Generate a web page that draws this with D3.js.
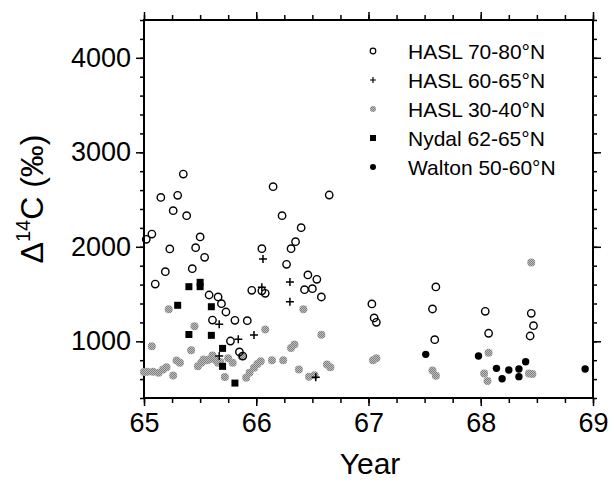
<!DOCTYPE html>
<html>
<head>
<meta charset="utf-8">
<script src="https://cdn.jsdelivr.net/npm/d3@7"></script>
<style>
  body { margin: 0; background: #fff; }
  text { font-family: "Liberation Sans", Arial, sans-serif; fill: #000; }
</style>
</head>
<body>
<script>
// data: [year, delta14C]
var hasl7080 = [
  [65.02,2079],[65.07,2135],[65.10,1606],[65.15,2523],[65.19,1737],[65.23,1977],
  [65.26,2382],[65.30,2545],[65.35,2770],[65.38,2329],[65.43,1769],[65.46,1991],
  [65.50,2104],[65.54,1889],[65.58,1490],[65.61,1225],[65.66,1469],[65.69,1398],
  [65.73,1310],[65.77,1003],[65.81,1222],[65.85,887],[65.88,844],[65.92,1218],
  [65.96,1539],[66.05,1980],[66.05,1534],[66.08,1508],[66.15,2636],[66.23,2329],
  [66.27,1815],[66.31,1980],[66.35,2054],[66.40,2202],[66.43,1546],[66.46,1702],
  [66.50,1557],[66.54,1656],[66.58,1469],[66.65,2548],
  [67.03,1395],[67.05,1247],[67.07,1201],[67.57,1342],[67.59,1017],[67.60,1575],
  [68.04,1317],[68.07,1085],[68.44,1056],[68.45,1296],[68.47,1165]
];
var hasl6065 = [
  [65.67,1180],[65.67,844],[65.84,1021],[65.98,1067],[66.06,1871],[66.05,1571],
  [66.30,1628],[66.30,1419],[66.53,619]
];
var hasl3040 = [
  [65.00,674],[65.03,678],[65.08,677],[65.13,667],[65.17,702],[65.20,726],[65.07,947],
  [65.22,1340],[65.26,639],[65.29,796],[65.32,772],[65.42,905],[65.45,1160],[65.48,737],
  [65.51,772],[65.53,807],[65.56,800],[65.58,807],[65.61,849],[65.64,800],[65.66,772],
  [65.72,621],[65.68,780],[65.75,820],[65.79,772],[65.87,842],[65.91,615],[65.94,667],
  [65.98,721],[66.01,761],[66.04,789],[66.08,1125],[66.14,800],[66.24,800],[66.31,930],
  [66.34,965],[66.38,702],[66.42,1340],[66.47,625],[66.52,640],[66.58,1068],[66.63,754],
  [66.66,726],[67.04,800],[67.07,820],[67.57,690],[67.60,635],[68.03,660],[68.06,580],
  [68.07,878],[68.43,660],[68.46,655],[68.45,1833]
];
var nydal = [
  [65.30,1381],[65.40,1578],[65.50,1624],[65.50,1578],[65.60,1366],[65.40,1072],
  [65.60,1063],[65.70,925],[65.70,735],[65.81,558]
];
var walton = [
  [67.51,862],[67.98,844],[68.14,714],[68.19,604],[68.25,696],[68.34,707],
  [68.34,626],[68.40,784],[68.93,707]
];
var yearTicks = [65, 66, 67, 68, 69];
var valueTicks = [1000, 2000, 3000, 4000];
var legendLabels = ["HASL 70-80°N", "HASL 60-65°N", "HASL 30-40°N", "Nydal 62-65°N", "Walton 50-60°N"];

var W = 610, H = 482;
var pLeft = 144, pRight = 593, pTop = 20, pBottom = 398;

var svg = d3.select("body").append("svg")
  .attr("width", W).attr("height", H);

var x = d3.scaleLinear().domain([65, 69]).range([pLeft, pRight]);
var y = d3.scaleLinear().domain([400, 4400]).range([pBottom, pTop]);

var minorX = d3.range(65, 69.01, 0.25);
var minorY = d3.range(400, 4401, 200);

function styleAxis(g) {
  g.select(".domain").remove();
  g.selectAll("line").attr("stroke", "#000").attr("stroke-width", 1.5);
  g.selectAll("text").attr("font-size", "27px").attr("fill", "#000")
    .attr("font-family", "Liberation Sans, Arial, sans-serif");
}

// bottom
svg.append("g").attr("transform", "translate(0," + pBottom + ")")
  .call(d3.axisBottom(x).tickValues(minorX).tickSize(5).tickFormat(""))
  .call(styleAxis);
svg.append("g").attr("transform", "translate(0," + pBottom + ")")
  .call(d3.axisBottom(x).tickValues(yearTicks).tickSize(8).tickPadding(7).tickFormat(d3.format("d")))
  .call(styleAxis);
// top
svg.append("g").attr("transform", "translate(0," + pTop + ")")
  .call(d3.axisTop(x).tickValues(minorX).tickSize(5).tickFormat(""))
  .call(styleAxis);
svg.append("g").attr("transform", "translate(0," + pTop + ")")
  .call(d3.axisTop(x).tickValues(yearTicks).tickSize(8).tickFormat(""))
  .call(styleAxis);
// left
svg.append("g").attr("transform", "translate(" + pLeft + ",0)")
  .call(d3.axisLeft(y).tickValues(minorY).tickSize(4).tickFormat(""))
  .call(styleAxis);
svg.append("g").attr("transform", "translate(" + pLeft + ",0)")
  .call(d3.axisLeft(y).tickValues(valueTicks).tickSize(8).tickPadding(5).tickFormat(d3.format("d")))
  .call(styleAxis);
// right
svg.append("g").attr("transform", "translate(" + pRight + ",0)")
  .call(d3.axisRight(y).tickValues(minorY).tickSize(4).tickFormat(""))
  .call(styleAxis);
svg.append("g").attr("transform", "translate(" + pRight + ",0)")
  .call(d3.axisRight(y).tickValues(valueTicks).tickSize(8).tickFormat(""))
  .call(styleAxis);

// frame
svg.append("rect")
  .attr("x", pLeft).attr("y", pTop)
  .attr("width", pRight - pLeft).attr("height", pBottom - pTop)
  .attr("fill", "none").attr("stroke", "#000").attr("stroke-width", 2);

// dithered grey
var defs = svg.append("defs");
var pat = defs.append("pattern").attr("id", "dither")
  .attr("width", 2).attr("height", 2).attr("patternUnits", "userSpaceOnUse");
pat.append("rect").attr("width", 2).attr("height", 2).attr("fill", "#bdbdbd");
pat.append("rect").attr("width", 1).attr("height", 1).attr("fill", "#808080");
pat.append("rect").attr("x", 1).attr("y", 1).attr("width", 1).attr("height", 1).attr("fill", "#808080");

var plot = svg.append("g");

// HASL 30-40 grey
plot.selectAll(".g3040").data(hasl3040).enter().append("circle")
  .attr("cx", d => x(d[0])).attr("cy", d => y(d[1]))
  .attr("r", 4).attr("fill", "url(#dither)");

// HASL 70-80 open circles
plot.selectAll(".o7080").data(hasl7080).enter().append("circle")
  .attr("cx", d => x(d[0])).attr("cy", d => y(d[1]))
  .attr("r", 3.7).attr("fill", "none").attr("stroke", "#000").attr("stroke-width", 1.4);

// HASL 60-65 crosses
plot.selectAll(".p6065").data(hasl6065).enter().append("path")
  .attr("d", d => "M" + (x(d[0]) - 4) + "," + y(d[1]) + "h8M" + x(d[0]) + "," + (y(d[1]) - 4) + "v8")
  .attr("stroke", "#000").attr("stroke-width", 1.5);

// Nydal squares
plot.selectAll(".nydal").data(nydal).enter().append("rect")
  .attr("x", d => x(d[0]) - 3.5).attr("y", d => y(d[1]) - 3.5)
  .attr("width", 7).attr("height", 7).attr("fill", "#000");

// Walton filled circles
plot.selectAll(".walton").data(walton).enter().append("circle")
  .attr("cx", d => x(d[0])).attr("cy", d => y(d[1]))
  .attr("r", 3.7).attr("fill", "#000");

// legend
var lg = svg.append("g");
var rowY = [51, 80, 109, 138, 167];
lg.append("circle").attr("cx", 373).attr("cy", rowY[0]).attr("r", 2.8)
  .attr("fill", "none").attr("stroke", "#000").attr("stroke-width", 1.2);
lg.append("path").attr("d", "M370," + rowY[1] + "h6M373," + (rowY[1] - 3) + "v6")
  .attr("stroke", "#000").attr("stroke-width", 1.2);
lg.append("circle").attr("cx", 373).attr("cy", rowY[2]).attr("r", 3)
  .attr("fill", "url(#dither)");
lg.append("rect").attr("x", 370).attr("y", rowY[3] - 3).attr("width", 6).attr("height", 6)
  .attr("fill", "#000");
lg.append("circle").attr("cx", 373).attr("cy", rowY[4]).attr("r", 3).attr("fill", "#000");
lg.selectAll("text.lab").data(legendLabels).enter().append("text")
  .attr("x", 408).attr("y", (d, i) => rowY[i] + 7.5)
  .attr("font-size", "21px").text(d => d);

// axis titles
svg.append("text").attr("x", 370).attr("y", 474)
  .attr("text-anchor", "middle").attr("font-size", "30px").text("Year");

var yl = svg.append("text")
  .attr("transform", "translate(43,199) rotate(-90)")
  .attr("text-anchor", "middle").attr("font-size", "32px");
yl.append("tspan").text("Δ");
yl.append("tspan").attr("font-size", "20px").attr("dy", -13).text("14");
yl.append("tspan").attr("dy", 13).text("C (‰)");
</script>
</body>
</html>
